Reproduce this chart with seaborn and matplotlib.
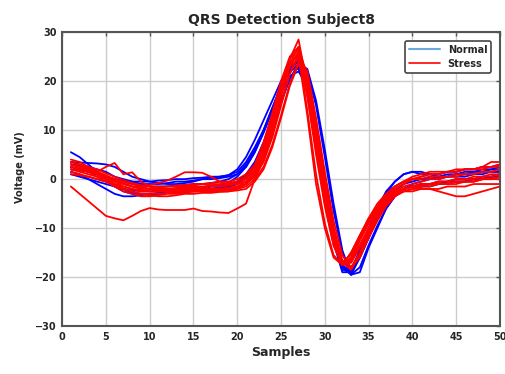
import numpy as np
import pandas as pd
import matplotlib
matplotlib.use("Agg")
import matplotlib.pyplot as plt
from matplotlib.lines import Line2D
import seaborn as sns

sns.set_theme(style="whitegrid")
plt.rcParams['font.family'] = ['DejaVu Sans']

# samples 1..50
samples = list(range(1, 51))

# Normal beats (blue)
normal_traces = [
    [5.5, 4.5, 3.0, 1.5, 0.0, -1.5, -2.5, -3.0, -3.0, -3.0, -2.8, -2.5, -2.5, -2.3, -2.2, -2.0, -2.0, -1.8, -1.5, -1.0,
     0.5, 3.0, 6.5, 10.5, 15.5, 20.5, 23.5,
     19.0, 9.0, -2.0, -11.5, -18.0, -19.5, -15.5, -11.5, -7.5, -4.5, -2.5, -1.0, -0.5, 0.0, 0.0, 0.5, 0.5, 1.0, 1.0, 1.5, 1.5, 2.0, 2.0],
    [3.5, 3.4, 3.3, 3.2, 3.0, 2.5, 1.5, 0.5, 0.0, -0.5, -0.8, -1.0, -1.0, -0.8, -0.5, 0.0, 0.3, 0.5, 0.8, 1.5,
     3.5, 6.5, 10.0, 14.5, 19.0, 22.5, 24.5,
     18.5, 7.5, -3.5, -13.0, -19.0, -19.0, -14.5, -10.5, -6.5, -3.0, -0.5, 1.0, 1.5, 1.5, 1.0, 1.0, 1.5, 1.5, 2.0, 2.0, 2.5, 2.5, 3.0],
    [2.5, 2.0, 1.5, 1.0, 0.5, 0.0, -0.5, -1.0, -1.2, -1.5, -1.5, -1.5, -1.3, -1.2, -1.0, -1.0, -0.8, -0.5, 0.0, 1.0,
     3.0, 6.0, 10.0, 14.5, 19.0, 22.0, 23.0,
     20.0, 11.0, 0.5, -10.0, -17.5, -19.5, -16.0, -12.0, -8.0, -5.0, -3.0, -2.0, -1.0, -0.5, 0.0, 0.0, 0.5, 0.5, 0.5, 1.0, 1.0, 1.5, 1.5],
    [1.5, 1.0, 0.0, -1.0, -2.0, -3.0, -3.5, -3.5, -3.3, -3.0, -3.0, -2.8, -2.7, -2.5, -2.5, -2.3, -2.0, -1.8, -1.5, -1.0,
     0.5, 3.0, 6.5, 11.0, 16.0, 20.5, 23.0,
     22.0, 15.0, 4.5, -6.5, -15.0, -19.5, -19.0, -14.0, -10.0, -6.0, -3.5, -2.0, -1.5, -1.0, -1.0, -0.5, -0.5, 0.0, 0.0, 0.0, 0.5, 0.5, 1.0],
    [3.0, 2.5, 2.0, 1.0, 0.5, 0.0, -0.3, -0.5, -0.5, -0.5, -0.3, -0.2, 0.0, 0.0, 0.2, 0.3, 0.5, 0.5, 0.8, 2.0,
     4.5, 8.0, 12.0, 16.0, 20.0, 22.5, 22.5,
     18.0, 8.5, -2.0, -12.0, -18.5, -19.0, -15.0, -11.0, -7.0, -3.5, -1.5, -0.5, 0.0, 0.0, 0.5, 0.5, 1.0, 1.0, 1.5, 1.5, 2.0, 2.0, 2.5],
    [1.0, 0.5, 0.0, -0.5, -1.0, -1.5, -2.0, -2.2, -2.5, -2.5, -2.3, -2.2, -2.0, -2.0, -1.8, -1.8, -1.5, -1.5, -1.0, -0.5,
     1.0, 3.5, 7.5, 12.5, 17.5, 21.0, 22.0,
     19.0, 10.0, -1.0, -11.0, -17.5, -19.0, -16.0, -12.0, -8.0, -5.0, -3.0, -2.0, -1.5, -1.5, -1.0, -1.0, -0.5, -0.5, -0.5, 0.0, 0.0, 0.5, 0.5],
    [2.0, 1.8, 1.5, 1.0, 0.0, -1.0, -2.0, -2.8, -3.0, -3.2, -3.0, -2.8, -2.5, -2.2, -2.0, -1.8, -1.5, -1.2, -0.8, 0.5,
     2.5, 5.5, 9.5, 14.0, 19.0, 22.5, 24.0,
     19.0, 8.5, -2.5, -12.0, -18.0, -18.5, -14.5, -10.0, -6.0, -2.5, -0.5, 1.0, 1.5, 1.0, 1.0, 0.5, 0.5, 1.0, 1.0, 1.0, 1.5, 1.5, 1.5],
    [3.0, 2.8, 2.5, 2.0, 1.5, 0.5, 0.0, -0.5, -1.0, -1.0, -1.0, -0.8, -0.5, -0.5, -0.3, 0.0, 0.0, 0.2, 0.5, 1.0,
     2.5, 5.5, 9.5, 14.0, 18.5, 22.0, 23.5,
     22.5, 16.0, 6.0, -5.0, -14.5, -19.5, -18.0, -13.5, -9.5, -6.0, -3.5, -2.0, -1.5, -1.5, -1.5, -1.0, -1.0, -0.5, -0.5, 0.0, 0.0, 0.5, 0.5],
]

# Stress beats (red)
stress_traces = [
    [-1.5, -3.0, -4.5, -6.0, -7.5, -8.0, -8.4, -7.5, -6.5, -5.9, -6.2, -6.3, -6.3, -6.3, -6.0, -6.5, -6.6, -6.8, -6.9, -6.0,
     -5.0, 0.0, 4.0, 10.0, 17.0, 23.0, 26.0,
     17.0, 5.0, -5.5, -13.5, -17.5, -16.5, -12.5, -9.0, -6.5, -4.5, -3.0, -2.5, -2.5, -2.0, -2.0, -2.0, -1.5, -1.5, -1.5, -1.0, -1.0, -1.0, -1.0],
    [3.0, 2.5, 2.0, 1.5, 2.5, 3.3, 1.0, 1.4, -0.5, -1.5, -2.0, -2.0, -2.2, -2.0, -2.0, -2.2, -2.3, -2.5, -2.5, -2.0,
     -1.0, 1.0, 4.5, 10.0, 17.0, 23.5, 27.0,
     18.0, 6.0, -5.0, -13.5, -17.5, -16.0, -12.0, -8.5, -5.5, -3.5, -2.0, -1.0, 0.0, 0.5, 1.0, 1.0, 1.5, 1.5, 2.0, 2.0, 2.0, 2.5, 2.5],
    [2.0, 1.5, 1.0, 0.5, 0.0, -0.5, -1.0, -1.5, -1.5, -1.2, -0.8, -0.3, 0.5, 1.4, 1.4, 1.3, 0.5, -0.5, -1.0, -1.0,
     -0.5, 1.5, 5.0, 11.0, 18.5, 24.5, 28.5,
     19.0, 6.5, -4.5, -13.0, -17.0, -15.5, -11.5, -8.0, -5.0, -3.0, -1.5, -0.5, 0.5, 1.0, 1.5, 1.5, 1.5, 2.0, 2.0, 2.0, 2.5, 3.5, 3.5],
    [4.0, 3.5, 2.5, 1.5, 0.5, -0.5, -1.5, -2.0, -2.5, -2.5, -2.5, -2.3, -2.3, -2.2, -2.0, -2.0, -2.0, -2.0, -1.8, -1.5,
     -1.0, 0.5, 3.5, 8.5, 15.0, 21.5, 25.5,
     19.5, 8.5, -3.0, -12.0, -17.0, -17.0, -13.5, -10.0, -7.0, -4.5, -3.0, -2.0, -1.5, -1.5, -1.0, -1.0, -1.0, -0.5, -0.5, -0.5, 0.0, 0.0, 0.0],
    [3.0, 2.5, 2.0, 1.0, 0.0, -1.0, -2.0, -2.5, -3.0, -3.0, -3.0, -2.8, -2.7, -2.5, -2.5, -2.5, -2.3, -2.3, -2.2, -2.0,
     -1.5, 0.0, 2.5, 7.0, 13.0, 19.5, 24.0,
     22.0, 11.5, 0.0, -10.0, -16.5, -18.0, -15.0, -11.0, -7.5, -5.0, -3.0, -2.0, -1.5, -1.0, -1.0, -0.5, -0.5, 0.0, 0.0, 0.5, 0.5, 1.0, 1.0],
    [2.5, 2.2, 1.8, 1.2, 0.5, -0.3, -1.0, -1.5, -1.8, -2.0, -2.0, -2.0, -1.8, -1.7, -1.5, -1.5, -1.3, -1.2, -1.0, -0.5,
     0.5, 2.5, 6.5, 12.5, 19.0, 24.5, 26.5,
     14.0, 1.0, -9.0, -15.5, -17.5, -15.0, -11.5, -8.0, -5.5, -3.0, -1.5, -0.5, 0.0, 0.0, 0.5, 0.5, 0.5, 1.0, 1.0, 1.0, 1.5, 1.5, 2.0],
    [1.5, 1.0, 0.5, 0.0, -0.5, -1.2, -2.0, -2.5, -3.0, -3.3, -3.5, -3.5, -3.3, -3.0, -3.0, -2.8, -2.8, -2.6, -2.5, -2.3,
     -2.0, -0.5, 2.0, 6.5, 12.5, 19.0, 23.5,
     20.5, 10.5, -1.0, -11.0, -17.0, -18.5, -15.5, -11.5, -8.0, -5.5, -3.5, -2.5, -2.0, -2.0, -2.0, -2.5, -3.0, -3.5, -3.5, -3.0, -2.5, -2.0, -1.5],
    [3.5, 3.0, 2.2, 1.5, 0.8, 0.0, -0.8, -1.5, -2.0, -2.0, -1.8, -1.5, -1.5, -1.5, -1.3, -1.0, -1.0, -1.0, -0.8, -0.5,
     0.3, 2.0, 5.5, 11.0, 17.5, 23.0, 26.0,
     18.5, 7.0, -4.0, -12.5, -17.0, -16.5, -12.5, -9.0, -6.0, -4.0, -2.5, -1.5, -1.0, -0.5, 0.0, 0.0, 0.5, 0.5, 1.0, 1.0, 1.5, 1.5, 2.0],
    [2.0, 1.8, 1.5, 1.0, 0.5, 0.0, -0.5, -1.0, -1.5, -2.0, -2.3, -2.5, -2.5, -2.5, -2.3, -2.3, -2.0, -2.0, -1.8, -1.5,
     -0.5, 1.5, 5.5, 11.5, 18.5, 24.0, 25.0,
     13.0, -1.0, -10.0, -16.0, -17.5, -15.0, -11.5, -8.5, -6.0, -4.0, -2.5, -2.0, -1.5, -1.5, -1.0, -1.0, -1.0, -0.5, -0.5, -0.5, 0.0, 0.0, 0.5],
    [1.0, 0.8, 0.5, 0.0, -0.5, -1.0, -1.5, -2.0, -2.2, -2.5, -2.5, -2.3, -2.0, -2.0, -1.8, -1.8, -1.5, -1.5, -1.3, -1.0,
     0.0, 2.0, 5.5, 11.5, 18.0, 23.0, 24.5,
     17.0, 6.0, -4.5, -13.0, -17.5, -17.0, -14.0, -10.5, -7.0, -4.5, -3.0, -2.0, -1.5, -1.0, -1.0, -0.5, -0.5, 0.0, 0.0, 0.0, 0.5, 0.5, 1.0],
    [3.5, 3.0, 2.5, 2.0, 1.2, 0.5, -0.2, -0.8, -1.2, -1.5, -1.5, -1.5, -1.3, -1.2, -1.0, -1.0, -0.8, -0.5, -0.5, 0.0,
     1.0, 3.0, 7.5, 13.5, 20.0, 25.0, 27.0,
     21.0, 10.0, -1.5, -11.0, -17.0, -17.0, -13.5, -10.0, -6.5, -4.0, -2.0, -1.0, 0.0, 0.5, 1.0, 1.0, 1.5, 1.5, 2.0, 2.0, 2.5, 2.5, 3.0],
    [2.5, 2.0, 1.5, 0.5, -0.5, -1.5, -2.5, -3.0, -3.5, -3.5, -3.3, -3.0, -3.0, -2.8, -2.5, -2.5, -2.5, -2.3, -2.0, -1.8,
     -1.0, 1.0, 4.0, 9.0, 15.5, 21.5, 25.0,
     22.0, 12.5, 1.5, -8.5, -15.5, -18.0, -16.0, -12.0, -8.5, -5.5, -3.5, -2.5, -2.0, -1.5, -1.5, -1.0, -1.0, -1.0, -0.5, -0.5, 0.0, 0.0, 0.5],
]

rows = []
for i, tr in enumerate(normal_traces):
    for s, v in zip(samples, tr):
        rows.append(("Normal", f"n{i}", s, v))
for i, tr in enumerate(stress_traces):
    for s, v in zip(samples, tr):
        rows.append(("Stress", f"s{i}", s, v))
df = pd.DataFrame(rows, columns=["group", "trace", "sample", "voltage"])

fig = plt.figure(figsize=(5.05, 3.74), dpi=100)
ax = fig.add_axes([0.123, 0.128, 0.867, 0.786])

sns.lineplot(data=df, x="sample", y="voltage", hue="group", units="trace",
             estimator=None, palette={"Normal": "#0000ff", "Stress": "#ff0000"},
             hue_order=["Normal", "Stress"], lw=1.3, legend=False, ax=ax)

ax.set_xlim(0, 50)
ax.set_ylim(-30, 30)
ax.set_xticks(range(0, 51, 5))
ax.set_yticks(range(-30, 31, 10))
ax.grid(True, color="#cccccc", lw=1.0)
for sp in ax.spines.values():
    sp.set_visible(True)
    sp.set_color("#555555")
    sp.set_linewidth(1.5)
ax.tick_params(direction="in", top=True, right=True, length=3, width=1,
               color="#555555", labelsize=7, pad=4)
for lab in ax.get_xticklabels() + ax.get_yticklabels():
    lab.set_fontweight("bold")

ax.set_title("QRS Detection Subject8", fontsize=10, fontweight="bold", pad=6)
ax.set_xlabel("Samples", fontsize=9, fontweight="bold", labelpad=3)
ax.set_ylabel("Voltage (mV)", fontsize=7, fontweight="bold")
ax.yaxis.set_label_coords(-0.085, 0.54)

handles = [Line2D([0], [0], color="#6fa8dc", lw=1.5),
           Line2D([0], [0], color="#ff0000", lw=1.2)]
leg = ax.legend(handles, ["Normal", "Stress"], loc="upper right",
                prop={"size": 7, "weight": "bold"}, frameon=True, fancybox=True,
                handlelength=3.2, borderaxespad=0.9, labelspacing=0.4)
leg.get_frame().set_edgecolor("#444444")
leg.get_frame().set_linewidth(1.2)
leg.get_frame().set_alpha(1)

fig.savefig("out.png", dpi=100)
